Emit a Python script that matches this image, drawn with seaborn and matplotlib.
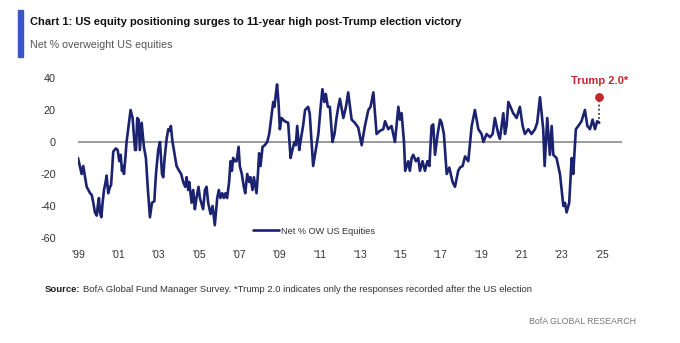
import matplotlib
matplotlib.use("Agg")
import matplotlib.pyplot as plt
import seaborn as sns
import pandas as pd
from matplotlib.patches import Rectangle

# ---- data ----
years = [
    1999.00, 1999.18, 1999.26, 1999.43, 1999.60, 1999.68, 1999.76, 1999.84, 1999.93, 1999.98,
    2000.04, 2000.09, 2000.16, 2000.22, 2000.29, 2000.37, 2000.42, 2000.50, 2000.59, 2000.64,
    2000.69, 2000.75, 2000.88, 2000.97, 2001.05, 2001.12, 2001.18, 2001.25, 2001.28, 2001.35,
    2001.41, 2001.51, 2001.61, 2001.71, 2001.83, 2001.88, 2001.94, 2002.01, 2002.07, 2002.16,
    2002.21, 2002.27, 2002.37, 2002.47, 2002.57, 2002.67, 2002.79, 2002.82, 2002.87, 2002.98,
    2003.07, 2003.17, 2003.23, 2003.30, 2003.40, 2003.48, 2003.56, 2003.61, 2003.69, 2003.76,
    2003.89, 2004.02, 2004.12, 2004.22, 2004.32, 2004.39, 2004.47, 2004.52, 2004.64, 2004.72,
    2004.80, 2004.88, 2004.98, 2005.05, 2005.21, 2005.30, 2005.38, 2005.46, 2005.58, 2005.68,
    2005.79, 2005.91, 2005.99, 2006.07, 2006.16, 2006.24, 2006.32, 2006.40, 2006.50, 2006.57,
    2006.64, 2006.70, 2006.79, 2006.87, 2006.97, 2007.03, 2007.13, 2007.23, 2007.30, 2007.40,
    2007.50, 2007.56, 2007.66, 2007.73, 2007.86, 2007.93, 2007.99, 2008.06, 2008.16, 2008.27,
    2008.39, 2008.49, 2008.59, 2008.69, 2008.75, 2008.82, 2008.88, 2008.95, 2009.02, 2009.10,
    2009.26, 2009.43, 2009.55, 2009.64, 2009.74, 2009.81, 2009.88, 2009.98, 2010.04, 2010.17,
    2010.27, 2010.42, 2010.50, 2010.59, 2010.67, 2010.80, 2010.93, 2011.03, 2011.13, 2011.23,
    2011.30, 2011.40, 2011.50, 2011.63, 2011.73, 2011.83, 2011.92,
    2012.00, 2012.17, 2012.30, 2012.41, 2012.58, 2012.74, 2012.91, 2013.08, 2013.24, 2013.41,
    2013.52, 2013.66, 2013.82, 2013.99, 2014.15, 2014.24, 2014.40, 2014.56, 2014.73, 2014.90,
    2014.98, 2015.06, 2015.18, 2015.24, 2015.39, 2015.47, 2015.56, 2015.64, 2015.77, 2015.89,
    2015.97, 2016.10, 2016.22, 2016.34, 2016.44, 2016.55, 2016.63, 2016.72, 2016.85, 2016.97,
    2017.05, 2017.16, 2017.30, 2017.43, 2017.59, 2017.71, 2017.87, 2017.96, 2018.09, 2018.21,
    2018.37, 2018.54, 2018.70, 2018.87, 2019.03, 2019.12, 2019.28, 2019.45, 2019.58, 2019.69,
    2019.86, 2019.94, 2020.11, 2020.19, 2020.27, 2020.36, 2020.60, 2020.77, 2020.93, 2021.07,
    2021.18, 2021.35, 2021.51, 2021.68, 2021.79, 2021.93, 2022.09, 2022.16, 2022.29, 2022.42,
    2022.51, 2022.59, 2022.75, 2022.92, 2023.09, 2023.17, 2023.25, 2023.38, 2023.50, 2023.58,
    2023.71, 2023.83, 2023.99, 2024.16, 2024.28, 2024.41, 2024.54, 2024.66, 2024.77, 2024.87,
]
net_ow = [
    -10, -20, -15, -28, -32, -33, -38, -44, -46, -40,
    -35, -44, -47, -38, -30, -25, -21, -32, -28, -27,
    -18, -6, -4, -5, -12, -8, -18, -15, -20, -10,
    0, 10, 20, 15, -5, -5, 15, 14, -5, 12,
    5, -3, -10, -30, -47, -38, -37, -30, -20, -5,
    0, -20, -22, -10, 2, 8, 7, 10, 0, -5,
    -15, -18, -20, -25, -28, -22, -30, -25, -38, -30,
    -42, -35, -28, -35, -42, -30, -28, -38, -45, -40,
    -52, -35, -30, -35, -32, -35, -32, -35, -25, -12,
    -18, -10, -12, -12, -3, -15, -20, -28, -32, -20,
    -25, -22, -30, -22, -32, -20, -7, -15, -3, -2,
    0, 5, 15, 25, 22, 30, 36, 25, 8, 15,
    13, 12, -10, -5, 0, -2, 10, -5, 0, 10,
    20, 22, 18, 0, -15, -5, 5, 20, 33, 25,
    30, 22, 22, 0, 5, 15, 22,
    27, 15, 22, 31, 14, 12, 9, -2, 10, 20,
    22, 31, 5, 7, 8, 13, 8, 10, 0, 22,
    14, 18, 0, -18, -12, -18, -10, -8, -12, -10,
    -18, -12, -18, -12, -15, 10, 11, -8, 5, 14,
    12, 5, -20, -16, -25, -28, -18, -16, -15, -9,
    -12, 10, 20, 8, 5, 0, 5, 3, 5, 15,
    5, 2, 18, 5, 10, 25, 18, 15, 22, 10,
    5, 8, 5, 8, 12, 28, 8, -15, 15, -8,
    10, -8, -10, -20, -40, -38, -44, -38, -10, -20,
    8, 10, 13, 20, 10, 8, 14, 8, 13, 12,
]
trump_year = 2024.87
trump_value = 28
series_label = "Net % OW US Equities"
ytick_values = [-60, -40, -20, 0, 20, 40]
xtick_years = list(range(1999, 2027, 2))
xtick_labels = ["'99", "'01", "'03", "'05", "'07", "'09", "'11", "'13",
                "'15", "'17", "'19", "'21", "'23", "'25"]

df = pd.DataFrame({"year": years, "value": net_ow, "series": series_label})

# ---- style ----
sns.set_theme(style="white")
plt.rcParams["font.family"] = ["Liberation Sans", "DejaVu Sans"]

NAVY = "#1b2370"
RED = "#c0282d"

fig = plt.figure(figsize=(6.8, 3.43), dpi=100)
ax = fig.add_axes([78 / 680, 1 - 238 / 343, 544 / 680, 160 / 343])

ax.axhline(0, color="#808080", lw=1.1, zorder=1)
sns.lineplot(data=df, x="year", y="value", hue="series", palette=[NAVY],
             lw=1.9, sort=False, ax=ax, zorder=3)

# Trump 2.0 marker
ax.plot([trump_year, trump_year], [net_ow[-1], trump_value], ls=(0, (1, 1.5)),
        color="#222222", lw=1.2, zorder=2)
ax.scatter([trump_year], [trump_value], s=28, color=RED, zorder=4)
ax.text(trump_year, trump_value + 7, "Trump 2.0*", color=RED, fontsize=8,
        fontweight="bold", ha="center", va="bottom", clip_on=False)

ax.set_xlim(1999, 2026)
ax.set_ylim(-60, 40)
ax.set_yticks(ytick_values)
ax.set_yticklabels([str(v) for v in ytick_values])
ax.set_xticks(xtick_years)
ax.set_xticklabels(xtick_labels)
ax.tick_params(axis="y", length=0, pad=16, labelsize=7.8, labelcolor="#333333")
ax.tick_params(axis="x", length=0, pad=9, labelsize=7.5, labelcolor="#333333")
for s in ax.spines.values():
    s.set_visible(False)
ax.set_xlabel("")
ax.set_ylabel("")

leg = ax.legend(loc="center", bbox_to_anchor=(314 / 680, 1 - 231 / 343),
                bbox_transform=fig.transFigure, frameon=False, fontsize=6.6,
                handlelength=2.9, handletextpad=0.2, borderpad=0)
for t in leg.get_texts():
    t.set_color("#333333")

# ---- header / footer ----
fig.patches.append(Rectangle((18 / 680, 1 - 57 / 343), 5 / 680, 47 / 343,
                             transform=fig.transFigure, color="#3a55c4",
                             zorder=5))
fig.text(30 / 680, 1 - 22 / 343,
         "Chart 1: US equity positioning surges to 11-year high post-Trump election victory",
         fontsize=8.0, fontweight="bold", color="#111111", va="center", ha="left")
fig.text(30 / 680, 1 - 45 / 343, "Net % overweight US equities",
         fontsize=7.7, color="#555555", va="center", ha="left")

src = fig.text(45 / 680, 1 - 289 / 343, "Source:", fontsize=6.8, fontweight="bold",
               color="#222222", va="center", ha="left")
fig.add_artist(matplotlib.text.Annotation(
    "BofA Global Fund Manager Survey. *Trump 2.0 indicates only the responses recorded after the US election",
    xy=(1, 0.5), xycoords=src, xytext=(1.5, 0), textcoords="offset points",
    fontsize=6.8, color="#333333", va="center", ha="left"))
fig.text(636 / 680, 1 - 322 / 343, "BofA GLOBAL RESEARCH", fontsize=6.3,
         color="#777777", va="center", ha="right")

fig.savefig("out.png", dpi=100, facecolor="white")
